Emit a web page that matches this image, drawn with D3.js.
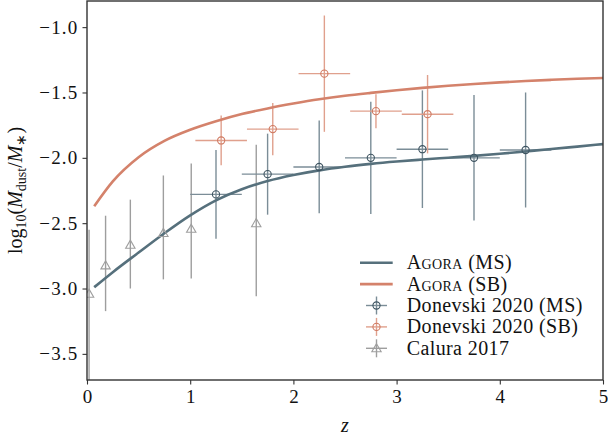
<!DOCTYPE html>
<html><head><meta charset="utf-8">
<script src="https://cdn.jsdelivr.net/npm/d3@7"></script>
<style>body{margin:0;background:#fff}svg{display:block}</style>
</head><body><svg id="c" width="608" height="439"></svg>
<script>
// ---- data ----
const curveZ  = [0.07, 0.25, 0.5, 0.75, 1.0, 1.25, 1.5, 1.75, 2.0, 2.25, 2.5, 2.75, 3.0, 3.25, 3.5, 3.75, 4.0, 4.25, 4.5, 4.75, 5.0];
const agoraMS = [-2.99, -2.875, -2.725, -2.577, -2.44, -2.325, -2.24, -2.178, -2.132, -2.096, -2.068, -2.046, -2.028, -2.013, -1.999, -1.985, -1.969, -1.951, -1.933, -1.914, -1.895];
const agoraSB = [-2.37, -2.18, -1.995, -1.87, -1.785, -1.72, -1.665, -1.622, -1.585, -1.552, -1.525, -1.503, -1.483, -1.465, -1.449, -1.435, -1.423, -1.412, -1.403, -1.395, -1.389];

const donMSz   = [1.25, 1.75, 2.25, 2.75, 3.25, 3.75, 4.25];
const donMS    = [-2.28, -2.125, -2.07, -2.0, -1.934, -2.0, -1.94];
const donMSerr = [0.34, 0.31, 0.355, 0.43, 0.45, 0.48, 0.44];
const donMSzerr = [0.25, 0.25, 0.25, 0.25, 0.25, 0.25, 0.25];

const donSBz   = [1.30, 1.80, 2.30, 2.80, 3.30];
const donSB    = [-1.867, -1.78, -1.356, -1.643, -1.666];
const donSBerr = [0.19, 0.20, 0.445, 0.13, 0.30];
const donSBzerr = [0.25, 0.25, 0.25, 0.25, 0.25];

const caluraZ     = [0.02, 0.18, 0.42, 0.74, 1.01, 1.64];
const calura      = [-3.04, -2.823, -2.665, -2.575, -2.543, -2.50];
const caluraErrLo = [0.80, 0.35, 0.335, 0.355, 0.38, 0.56];
const caluraErrHi = [0.49, 0.38, 0.345, 0.44, 0.50, 0.60];

const xTicks = [0, 1, 2, 3, 4, 5];
const yTicks = [-3.5, -3.0, -2.5, -2.0, -1.5, -1.0];
const legendLabels = ["Agora (MS)", "Agora (SB)", "Donevski 2020 (MS)", "Donevski 2020 (SB)", "Calura 2017"];

// ---- style ----
const cMS = "#56707c", cSB = "#d4826b", cCal = "#9e9e9e";
const cMSbar = "#7b8d97", cSBbar = "#e0a08d", cMSmk = "#3e5461", cSBmk = "#d07a62";
const FONT = "'Liberation Serif','Times New Roman',serif";

const W = 608, H = 439;
const m = {left: 87, right: 5, top: 1, bottom: 59};
const x = d3.scaleLinear().domain([0, 5]).range([m.left, W - m.right]);
const y = d3.scaleLinear().domain([-3.7, -0.8]).range([H - m.bottom, m.top]);

const svg = d3.select("#c");
svg.append("defs").append("clipPath").attr("id", "clip")
  .append("rect").attr("x", x(0)).attr("y", y(-0.8)).attr("width", x(5) - x(0)).attr("height", y(-3.7) - y(-0.8));
const plot = svg.append("g").attr("clip-path", "url(#clip)");

// error bars
function errbars(zs, vs, lo, hi, zerr, color) {
  const g = plot.append("g").attr("stroke", color).attr("stroke-width", 1.4).attr("fill", "none");
  zs.forEach((z, i) => {
    g.append("line").attr("x1", x(z)).attr("x2", x(z)).attr("y1", y(vs[i] - lo[i])).attr("y2", y(vs[i] + hi[i]));
    if (zerr) g.append("line").attr("x1", x(z - zerr[i])).attr("x2", x(z + zerr[i])).attr("y1", y(vs[i])).attr("y2", y(vs[i]));
  });
}
errbars(caluraZ, calura, caluraErrLo, caluraErrHi, null, cCal);
errbars(donMSz, donMS, donMSerr, donMSerr, donMSzerr, cMSbar);
errbars(donSBz, donSB, donSBerr, donSBerr, donSBzerr, cSBbar);

// curves
const line = d3.line().x(d => x(d[0])).y(d => y(d[1])).curve(d3.curveMonotoneX);
plot.append("path").datum(curveZ.map((z, i) => [z, agoraMS[i]])).attr("d", line)
  .attr("fill", "none").attr("stroke", cMS).attr("stroke-width", 2.6);
plot.append("path").datum(curveZ.map((z, i) => [z, agoraSB[i]])).attr("d", line)
  .attr("fill", "none").attr("stroke", cSB).attr("stroke-width", 2.6);

// markers
const tri = d3.symbol().type(d3.symbolTriangle).size(38);
plot.selectAll(".cal").data(caluraZ).enter().append("path")
  .attr("d", tri).attr("transform", (z, i) => `translate(${x(z)},${y(calura[i]) + 0.8})`)
  .attr("fill", "none").attr("stroke", cCal).attr("stroke-width", 1.1);
plot.selectAll(".dms").data(donMSz).enter().append("circle")
  .attr("cx", z => x(z)).attr("cy", (z, i) => y(donMS[i])).attr("r", 3.6)
  .attr("fill", "none").attr("stroke", cMSmk).attr("stroke-width", 1.1);
plot.selectAll(".dsb").data(donSBz).enter().append("circle")
  .attr("cx", z => x(z)).attr("cy", (z, i) => y(donSB[i])).attr("r", 3.6)
  .attr("fill", "none").attr("stroke", cSBmk).attr("stroke-width", 1.1);

// axes
const fmtY = d3.format(".1f");
const gx = svg.append("g").attr("transform", `translate(0,${H - m.bottom})`)
  .call(d3.axisBottom(x).tickValues(xTicks).tickFormat(d3.format("d")).tickSize(4.5).tickPadding(5));
const gy = svg.append("g").attr("transform", `translate(${m.left},0)`)
  .call(d3.axisLeft(y).tickValues(yTicks).tickFormat(fmtY).tickSize(4.5).tickPadding(4));
[gx, gy].forEach(g => {
  g.select(".domain").remove();
  g.selectAll("line").attr("stroke", "#333").attr("stroke-width", 1.1);
  g.selectAll("text").attr("font-family", FONT).attr("font-size", 19).attr("fill", "#111");
});
gy.selectAll("text").attr("letter-spacing", 1.2);

// frame
svg.append("rect").attr("x", x(0)).attr("y", y(-0.8)).attr("width", x(5) - x(0)).attr("height", y(-3.7) - y(-0.8))
  .attr("fill", "none").attr("stroke", "#333").attr("stroke-width", 1.4);

// axis labels
svg.append("text").attr("x", (x(0) + x(5)) / 2).attr("y", 432).attr("text-anchor", "middle")
  .attr("font-family", FONT).attr("font-size", 20).attr("font-style", "italic").attr("fill", "#111").text("z");
const yl = svg.append("text").attr("transform", `translate(22,${(y(-0.8) + y(-3.7)) / 2}) rotate(-90)`)
  .attr("text-anchor", "middle").attr("font-family", FONT).attr("font-size", 20).attr("fill", "#111");
yl.append("tspan").text("log");
yl.append("tspan").attr("font-size", 14).attr("dy", 4).text("10");
yl.append("tspan").attr("dy", -4).text("(");
yl.append("tspan").attr("font-style", "italic").text("M");
yl.append("tspan").attr("font-size", 14).attr("dy", 4).text("dust");
yl.append("tspan").attr("dy", -4).text("/");
yl.append("tspan").attr("font-style", "italic").text("M");
yl.append("tspan").attr("font-size", 14).attr("dy", 4).text("∗");
yl.append("tspan").attr("dy", -4).text(")");

// legend
const lg = svg.append("g");
const ly0 = 262.7, ldy = 21.4, lx0 = 360, lx1 = 392.7, ltx = 406.7, lcx = 376.5;
legendLabels.forEach((lab, i) => {
  const yy = ly0 + i * ldy;
  if (i < 2) {
    lg.append("line").attr("x1", lx0).attr("x2", lx1).attr("y1", yy).attr("y2", yy)
      .attr("stroke", i === 0 ? cMS : cSB).attr("stroke-width", 2.6);
  } else {
    const bc = i === 2 ? cMSbar : i === 3 ? cSBbar : cCal;
    const mc = i === 2 ? cMSmk : i === 3 ? cSBmk : cCal;
    lg.append("line").attr("x1", lcx).attr("x2", lcx).attr("y1", yy - 9).attr("y2", yy + 9).attr("stroke", bc).attr("stroke-width", 1.4);
    lg.append("line").attr("x1", lcx - 10.5).attr("x2", lcx + 10.5).attr("y1", yy).attr("y2", yy).attr("stroke", bc).attr("stroke-width", 1.4);
    if (i < 4) lg.append("circle").attr("cx", lcx).attr("cy", yy).attr("r", 3.6).attr("fill", "none").attr("stroke", mc).attr("stroke-width", 1.1);
    else lg.append("path").attr("d", tri).attr("transform", `translate(${lcx},${yy + 0.8})`).attr("fill", "none").attr("stroke", mc).attr("stroke-width", 1.1);
  }
  const t = lg.append("text").attr("x", ltx).attr("y", yy + 6.5).attr("font-family", FONT).attr("font-size", 20)
    .attr("letter-spacing", 0.4).attr("fill", "#111");
  if (lab.startsWith("Agora")) {
    t.append("tspan").attr("font-variant", "small-caps").text("Agora");
    t.append("tspan").text(lab.slice(5));
  } else t.text(lab);
});
</script></body></html>
